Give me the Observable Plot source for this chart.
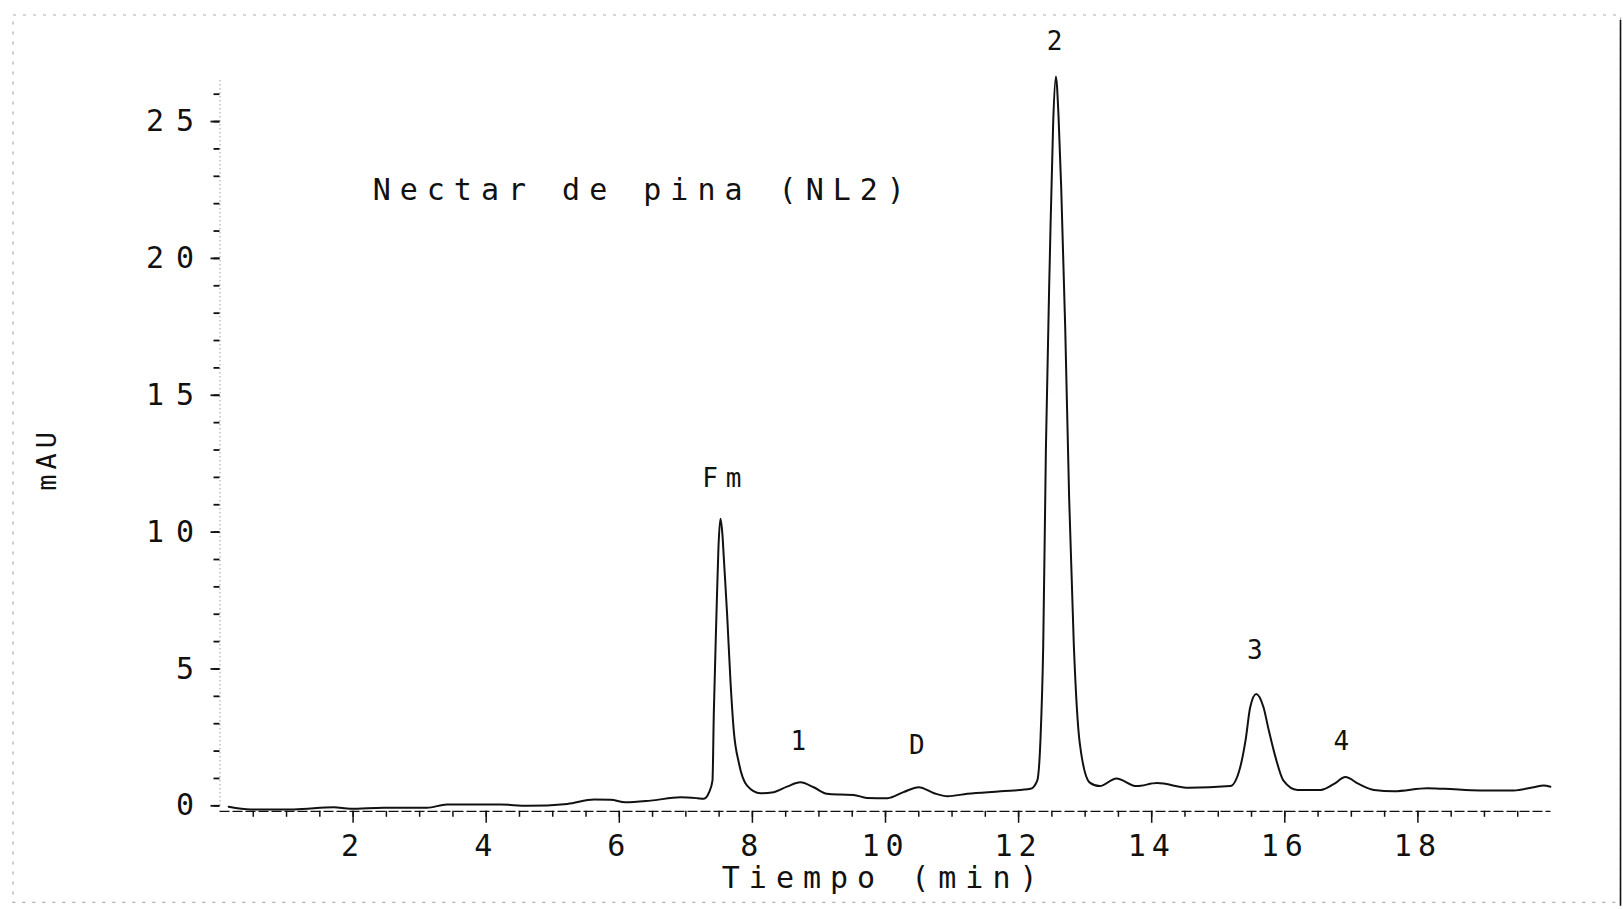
<!DOCTYPE html>
<html><head><meta charset="utf-8">
<script src="https://cdn.jsdelivr.net/npm/d3@7"></script>
<script src="https://cdn.jsdelivr.net/npm/@observablehq/plot@0.6"></script>
<style>
html,body{margin:0;padding:0;background:#fff;}
svg text{font-family:"DejaVu Sans Mono",monospace;}
g[aria-label="y-axis tick label"] text{letter-spacing:12px}
g[aria-label="x-axis tick label"] text{letter-spacing:6px}
</style></head><body><div id="chart"></div>
<script>
// Chromatogram trace: retention time (min) and absorbance (mAU)
const timeMin = [0.13, 0.46, 1.11, 1.71, 1.96, 2.46, 3.11, 3.41, 4.21, 4.62, 5.22, 5.62, 5.87, 6.09, 6.47, 6.92, 7.17, 7.27, 7.35, 7.40, 7.42, 7.46, 7.49, 7.52, 7.55, 7.57, 7.62, 7.67, 7.72, 7.80, 7.92, 8.12, 8.32, 8.52, 8.72, 8.92, 9.12, 9.32, 9.52, 9.72, 10.03, 10.27, 10.50, 10.73, 10.93, 11.23, 11.73, 12.18, 12.28, 12.33, 12.37, 12.41, 12.47, 12.52, 12.56, 12.60, 12.64, 12.70, 12.76, 12.83, 12.92, 13.07, 13.22, 13.47, 13.77, 14.08, 14.56, 15.18, 15.33, 15.41, 15.48, 15.57, 15.68, 15.76, 15.86, 15.98, 16.19, 16.54, 16.74, 16.91, 17.11, 17.34, 17.64, 18.14, 18.40, 18.94, 19.44, 19.74, 19.89, 19.99];
const absorbanceMAU = [-0.03, -0.13, -0.13, -0.05, -0.11, -0.07, -0.07, 0.05, 0.05, 0.0, 0.07, 0.23, 0.22, 0.13, 0.19, 0.31, 0.28, 0.26, 0.5, 0.92, 3.36, 7.0, 9.45, 10.49, 9.9, 9.08, 7.0, 4.58, 2.75, 1.53, 0.74, 0.46, 0.5, 0.70, 0.86, 0.68, 0.44, 0.41, 0.40, 0.29, 0.28, 0.5, 0.68, 0.46, 0.35, 0.44, 0.53, 0.62, 0.92, 2.5, 5.86, 13.0, 20.1, 25.0, 26.65, 25.2, 22.6, 17.5, 11.2, 5.86, 2.27, 0.85, 0.72, 1.0, 0.72, 0.83, 0.66, 0.72, 1.41, 2.39, 3.6, 4.09, 3.6, 2.75, 1.78, 0.92, 0.58, 0.58, 0.80, 1.05, 0.80, 0.58, 0.53, 0.64, 0.62, 0.56, 0.56, 0.68, 0.74, 0.70];

// Peak annotations
const peakNames = ["Fm", "1", "D", "2", "3", "4"];
const peakTimes = [7.54, 8.69, 10.47, 12.54, 15.55, 16.85];
const peakLabelLevels = [11.96, 2.35, 2.2, 27.92, 5.67, 2.35];

// Axis ticks
const xMajorTicks = [2, 4, 6, 8, 10, 12, 14, 16, 18];
const xMinorTicks = [0.5, 1, 1.5, 2, 2.5, 3, 3.5, 4, 4.5, 5, 5.5, 6, 6.5, 7, 7.5, 8, 8.5, 9, 9.5, 10, 10.5, 11, 11.5, 12, 12.5, 13, 13.5, 14, 14.5, 15, 15.5, 16, 16.5, 17, 17.5, 18, 18.5, 19, 19.5];
const yMajorTicks = [0, 5, 10, 15, 20, 25];
const yMinorTicks = [0, 1, 2, 3, 4, 5, 6, 7, 8, 9, 10, 11, 12, 13, 14, 15, 16, 17, 18, 19, 20, 21, 22, 23, 24, 25, 26];

// Texts
const chartTitle = ["Nectar de pina (NL2)"];
const titleTime = [6.3];
const titleLevel = [22.5];
const xTitle = ["Tiempo (min)"];
const xTitleTime = [9.92];
const yTitle = ["mAU"];
const yTitleLevel = [12.6];

const trace = timeMin.map((t, i) => ({t, v: absorbanceMAU[i]}));
const peaks = peakNames.map((n, i) => ({n, t: peakTimes[i], v: peakLabelLevels[i]}));
const ink = "#111";

const chart = Plot.plot({
  width: 1623,
  height: 909,
  marginLeft: 219.5,
  marginRight: 72.5,
  marginTop: 80,
  marginBottom: 98.2,
  style: {background: "#fff", color: ink, fontFamily: "DejaVu Sans Mono, monospace"},
  x: {domain: [0, 20]},
  y: {domain: [-0.2, 26.5]},
  marks: [
    // scanned page frame
    Plot.frame({stroke: ink, strokeOpacity: 0.35, strokeDasharray: "3,7", strokeWidth: 1.2,
      insetLeft: -207, insetTop: -65.5, insetRight: -69.5, insetBottom: -91}),
    Plot.ruleX([20], {dx: 69.5, insetTop: -60, insetBottom: -95, stroke: ink, strokeWidth: 1.6}),
    // y axis
    Plot.ruleX([0], {y1: 0, y2: 26.5, stroke: ink, strokeWidth: 1, strokeDasharray: "1,3", strokeOpacity: 0.6}),
    Plot.axisY({ticks: yMinorTicks, tickSize: 6, tickFormat: () => "", label: null, stroke: ink, strokeWidth: 1.8}),
    Plot.axisY({ticks: yMajorTicks, tickSize: 9, tickPadding: 5, fontSize: 30, label: null, stroke: ink, strokeWidth: 1.8, fill: ink}),
    // x axis
    Plot.ruleY([-0.2], {stroke: ink, strokeWidth: 1.3, strokeDasharray: "10,3"}),
    Plot.axisX({ticks: xMinorTicks, tickSize: 6, tickFormat: () => "", label: null, stroke: ink, strokeWidth: 1.5}),
    Plot.axisX({ticks: xMajorTicks, tickSize: 12, tickPadding: 11, fontSize: 30, label: null, stroke: ink, strokeWidth: 1.5, fill: ink}),
    // trace
    Plot.line(trace, {x: "t", y: "v", curve: "monotone-x", stroke: ink, strokeWidth: 2}),
    // annotations
    Plot.text(peaks, {x: "t", y: "v", text: "n", fontSize: 26, fill: ink, dx: 4}),
    Plot.text(chartTitle, {x: titleTime, y: titleLevel, text: d => d, fontSize: 30, fill: ink, dx: 4}),
    Plot.text(xTitle, {x: xTitleTime, frameAnchor: "bottom", lineAnchor: "middle", textAnchor: "middle", dy: 67, dx: 4, text: d => d, fontSize: 30, fill: ink}),
    Plot.text(yTitle, {y: yTitleLevel, frameAnchor: "left", lineAnchor: "middle", textAnchor: "middle", dx: -173, dy: -2, rotate: -90, text: d => d, fontSize: 27, fill: ink})
  ]
});

// letter spacing imitating the plotter lettering
const spacing = new Map([
  [chartTitle[0], "9px"], [xTitle[0], "9px"], [yTitle[0], "5px"],
  ...peakNames.map(n => [n, "8px"])
]);
d3.select(chart).selectAll("text").each(function () {
  if (this.closest('g[aria-label$="tick label"]')) return;
  const s = spacing.get(this.textContent);
  if (s) this.style.letterSpacing = s;
});
document.getElementById("chart").appendChild(chart);
</script></body></html>
